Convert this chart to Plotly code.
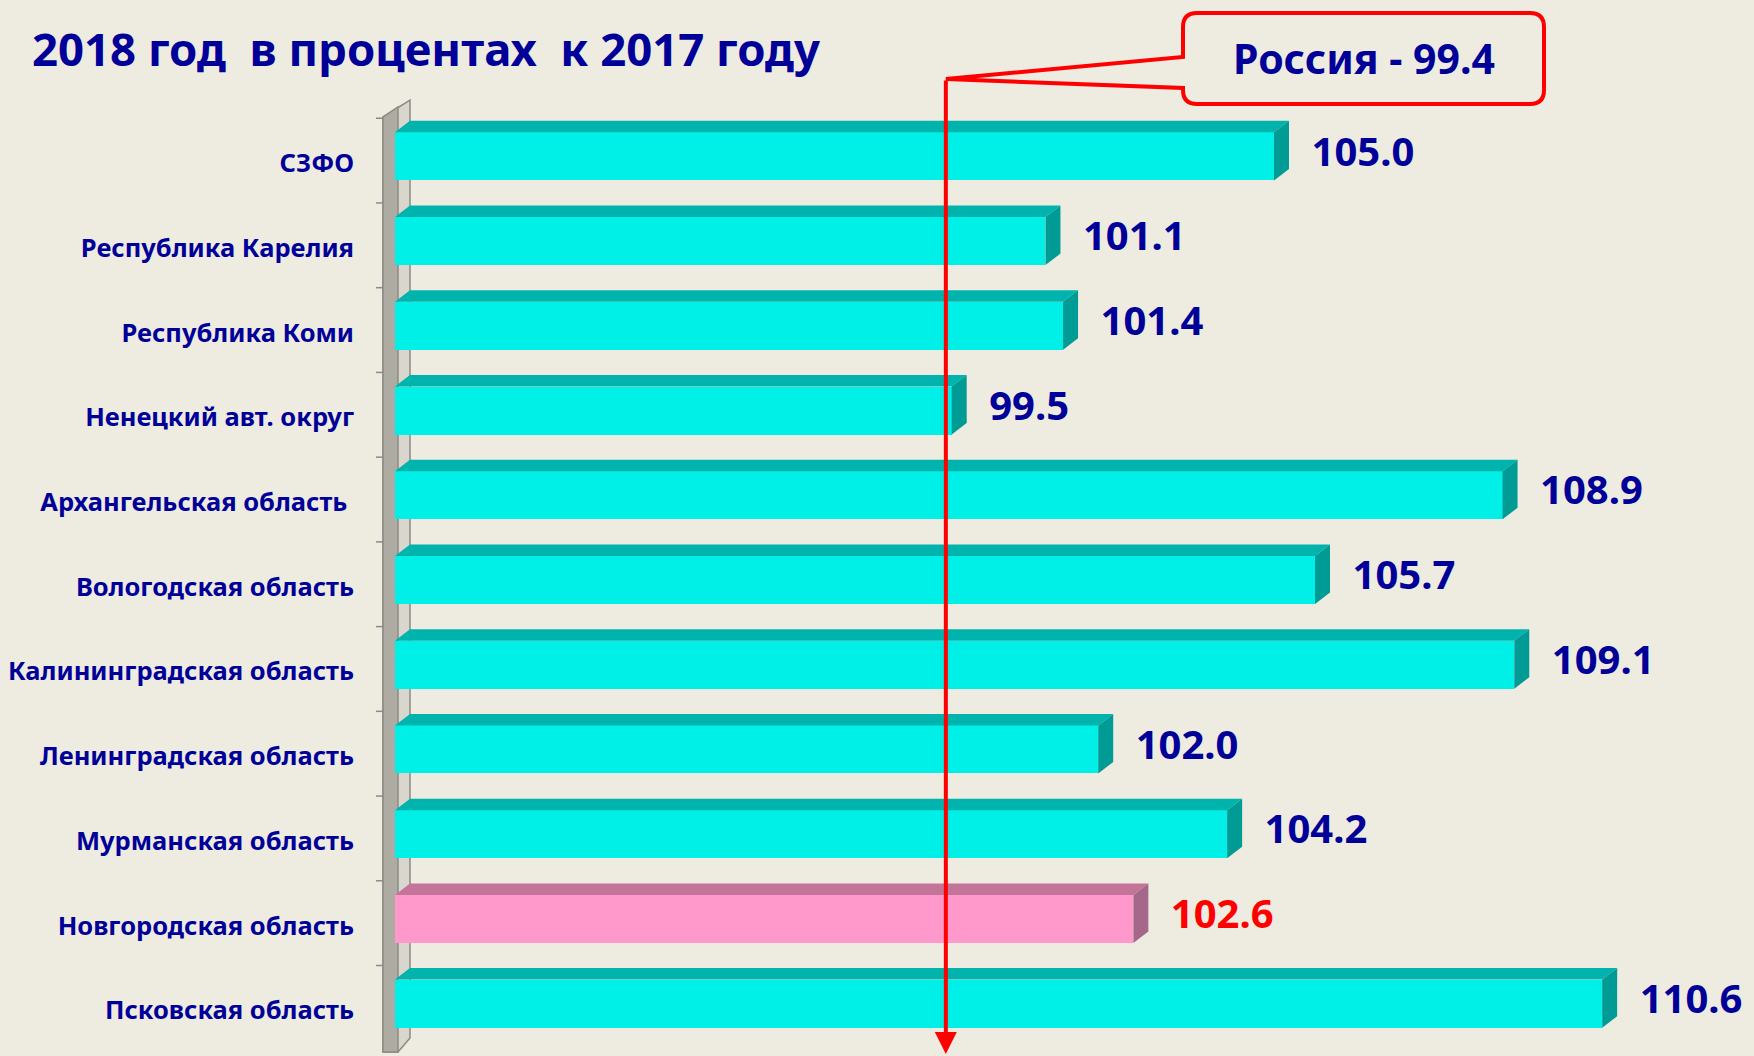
import plotly.graph_objects as go

# ---------------- data ----------------
categories = [
    "СЗФО",
    "Республика Карелия",
    "Республика Коми",
    "Ненецкий авт. округ",
    "Архангельская область\u00a0",
    "Вологодская область",
    "Калининградская область",
    "Ленинградская область",
    "Мурманская область",
    "Новгородская область",
    "Псковская область",
]
values = [105.0, 101.1, 101.4, 99.5, 108.9, 105.7, 109.1, 102.0, 104.2, 102.6, 110.6]
highlight = "Новгородская область"
russia_value = 99.4
title_text = "2018 год\u00a0\u00a0в процентах\u00a0\u00a0к 2017 году"
axis_min = 90.0

# ---------------- style ----------------
W, H = 1754, 1056
ML, MR, MT, MB = 395, 0, 114, 10
PX_PER_UNIT = 58.6
BG = "#EEEBE0"
NAVY = "#000099"
FONT = "Noto Sans"

plot_w = W - ML - MR
plot_h = H - MT - MB
x_max = axis_min + plot_w / PX_PER_UNIT
n = len(categories)
band_px = plot_h / n

bar_h = 0.567
dx = 15 / PX_PER_UNIT
dy = 11.5 / band_px

def px(xp):
    return (xp - ML) / plot_w

def py(yp):
    return (H - MB - yp) / plot_h

def xdata_to_px(v):
    return ML + (v - axis_min) * PX_PER_UNIT

fig = go.Figure()

front_cols, top_cols, side_cols, txt_cols = [], [], [], []
for c in categories:
    if c == highlight:
        front_cols.append("#FF99CC"); top_cols.append("#C47499"); side_cols.append("#A5688A"); txt_cols.append("#FF0000")
    else:
        front_cols.append("#00F0E8"); top_cols.append("#00B3AD"); side_cols.append("#009B95"); txt_cols.append(NAVY)

idx = list(range(n))

# top faces and side faces
for i, v in enumerate(values):
    yt = i - bar_h / 2
    yb = i + bar_h / 2
    fig.add_trace(go.Scatter(
        x=[axis_min, axis_min + dx, v + dx, v, axis_min],
        y=[yt, yt - dy, yt - dy, yt, yt],
        fill="toself", fillcolor=top_cols[i], mode="lines",
        line=dict(width=0), hoverinfo="skip", showlegend=False))
    fig.add_trace(go.Scatter(
        x=[v, v + dx, v + dx, v, v],
        y=[yt, yt - dy, yb - dy, yb, yt],
        fill="toself", fillcolor=side_cols[i], mode="lines",
        line=dict(width=0), hoverinfo="skip", showlegend=False))

# front faces
fig.add_trace(go.Bar(
    x=[v - axis_min for v in values], base=axis_min, y=idx, orientation="h",
    width=bar_h, marker=dict(color=front_cols, line=dict(width=0)),
    showlegend=False, hoverinfo="skip"))

# value labels
fig.add_trace(go.Scatter(
    x=[v + 0.64 for v in values], y=[i - 0.01 for i in idx],
    mode="text", text=[f"{v:.1f}" for v in values],
    textposition="middle right",
    textfont=dict(family=FONT, size=40, color=txt_cols, weight="bold"),
    cliponaxis=False, showlegend=False, hoverinfo="skip"))

shapes = []
# wall
wall_dark = "#AEABA3"
wall_light = "#D9D6CD"
wall_edge = "#8C8A85"
shapes.append(dict(type="path", xref="paper", yref="paper", layer="below",
    path=f"M {px(383)},{py(117)} L {px(410)},{py(100)} L {px(410)},{py(1038)} L {px(398)},{py(1052)} L {px(383)},{py(1052)} Z",
    fillcolor=wall_light, line=dict(color=wall_edge, width=1.5)))
shapes.append(dict(type="path", xref="paper", yref="paper", layer="below",
    path=f"M {px(383)},{py(117)} L {px(398)},{py(107)} L {px(398)},{py(1052)} L {px(383)},{py(1052)} Z",
    fillcolor=wall_dark, line=dict(color=wall_edge, width=1.5)))
for k in range(n + 1):
    yk = k - 0.45
    shapes.append(dict(type="line", xref="paper", yref="y", layer="below",
        x0=px(376), x1=px(383), y0=yk, y1=yk, line=dict(color=wall_edge, width=1.5)))

# Russia callout box
x1, x2, y1, y2, r = 1183, 1544, 13, 104, 14
tipx = xdata_to_px(russia_value)
tipy = 79
path = (f"M {px(x1 + r)},{py(y1)} L {px(x2 - r)},{py(y1)} Q {px(x2)},{py(y1)} {px(x2)},{py(y1 + r)} "
        f"L {px(x2)},{py(y2 - r)} Q {px(x2)},{py(y2)} {px(x2 - r)},{py(y2)} "
        f"L {px(x1 + r)},{py(y2)} Q {px(x1)},{py(y2)} {px(x1)},{py(y2 - r)} "
        f"L {px(x1)},{py(88)} L {px(tipx)},{py(tipy)} L {px(x1)},{py(57)} "
        f"L {px(x1)},{py(y1 + r)} Q {px(x1)},{py(y1)} {px(x1 + r)},{py(y1)} Z")
shapes.append(dict(type="path", xref="paper", yref="paper", path=path,
    fillcolor=BG, line=dict(color="#FF0000", width=4)))

annotations = [
    dict(xref="paper", yref="paper", x=px((x1 + x2) / 2), y=py(58),
         text=f"Россия - {russia_value}", showarrow=False,
         font=dict(family=FONT, size=41, color=NAVY, weight="bold"),
         xanchor="center", yanchor="middle"),
    dict(xref="x", yref="paper", x=russia_value, y=py(1054), text="",
         showarrow=True, ax=0, ay=-(1054 - tipy), arrowhead=2, arrowsize=1.1,
         arrowwidth=4, arrowcolor="#FF0000"),
]

fig.update_layout(
    width=W, height=H,
    margin=dict(l=ML, r=MR, t=MT, b=MB, pad=0),
    paper_bgcolor=BG, plot_bgcolor=BG,
    title=dict(text=title_text, x=32 / W, xanchor="left", xref="container",
               y=1 - 50 / H, yanchor="middle", yref="container",
               font=dict(family=FONT, size=45.5, color=NAVY, weight="bold")),
    xaxis=dict(range=[axis_min, x_max], visible=False, fixedrange=True),
    yaxis=dict(range=[n - 0.5, -0.5], tickvals=[i + 0.08 for i in idx], ticktext=categories,
               showgrid=False, zeroline=False, showline=False, ticks="",
               ticklabelstandoff=40, fixedrange=True,
               tickfont=dict(family=FONT, size=25.5, color=NAVY, weight="bold")),
    shapes=shapes, annotations=annotations, bargap=0,
)

fig.write_html("out.html", config={"displayModeBar": False},
               post_script="document.body.style.margin='0';document.body.style.overflow='hidden';")
